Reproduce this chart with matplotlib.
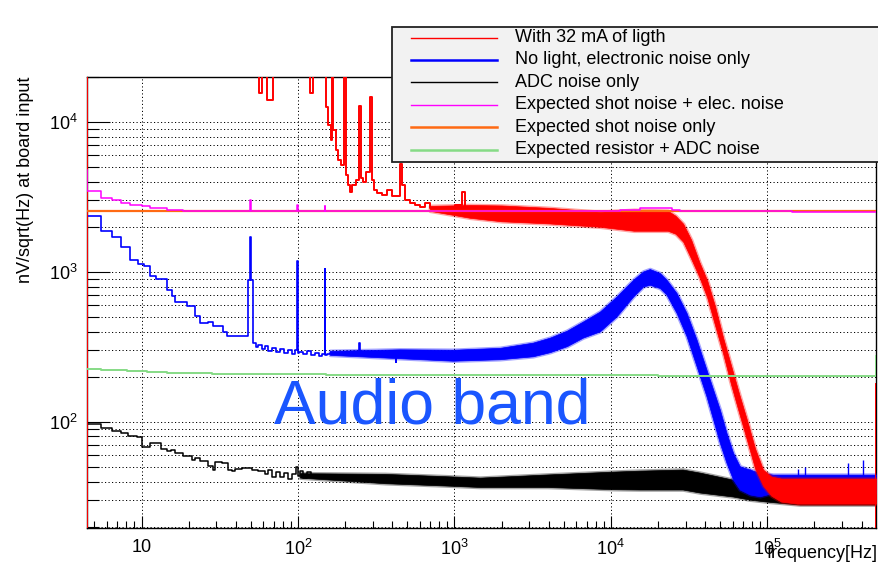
import matplotlib
matplotlib.use('Agg')
import matplotlib.pyplot as plt
from matplotlib.ticker import FixedLocator, FixedFormatter, LogLocator, NullFormatter
from matplotlib.patches import Rectangle
from matplotlib.lines import Line2D

plt.rcParams['font.family'] = ['Liberation Sans', 'DejaVu Sans']
plt.rcParams['mathtext.fontset'] = 'custom'
plt.rcParams['mathtext.rm'] = 'Liberation Sans'
plt.rcParams['mathtext.it'] = 'Liberation Sans:italic'

labels = ['With 32 mA of ligth', 'No light, electronic noise only', 'ADC noise only',
          'Expected shot noise + elec. noise', 'Expected shot noise only',
          'Expected resistor + ADC noise']
colors = ['#ff0000', '#0000ff', '#000000', '#ff00ff', '#ff6a13', '#86db86']

xtick_vals = [10, 100, 1e3, 1e4, 1e5]
xtick_labels = ['10', r'$\mathregular{10^{2}}$', r'$\mathregular{10^{3}}$',
                r'$\mathregular{10^{4}}$', r'$\mathregular{10^{5}}$']
ytick_vals = [100, 1e3, 1e4]
ytick_labels = [r'$\mathregular{10^{2}}$', r'$\mathregular{10^{3}}$', r'$\mathregular{10^{4}}$']

# red: with 32 mA of light (low frequency histogram part, then noise band)
red_f = [4.5, 4.5, 56.0, 58.8, 63.0, 69.0, 120, 124, 152, 156, 162, 166, 168, 174, 181, 188,
         198, 202, 208, 214, 222, 234, 246, 252, 262, 274, 290, 296, 306, 322, 345, 372, 400,
         449, 462, 483, 520, 560, 603, 649, 697, 807, 935, 1007, 1117, 1167, 1256]
red_v = [1, 3e4, 15700, 3e4, 14100, 3e4, 15700, 3e4, 12640, 9590, 7620, 3e4, 8890, 6530, 5610,
         5190, 3e4, 4455, 3820, 3430, 3820, 4125, 12850, 4254, 4000, 4665, 14750, 4125, 3540,
         3380, 3275, 3540, 3226, 5270, 3820, 3033, 2897, 2810, 2723, 2897, 2685, 2643, 2602,
         2810, 3430, 2602, 2523]
red_band_f = [697, 1256, 2000, 4000, 8510, 14030, 23120, 25900, 29000, 32600, 36700, 41300,
              46400, 52200, 58700, 66000, 74300, 83500, 93900, 106000, 122500, 155000, 290000,
              495000]
red_band_hi = [2760, 2800, 2780, 2680, 2523, 2602, 2563, 2373, 2098, 1641, 1171, 875, 587, 364,
               237, 154, 102, 66.4, 48.1, 43.2, 41.9, 41.9, 41.9, 41.9]
red_band_lo = [2560, 2300, 2180, 2110, 2004, 1885, 1885, 1800, 1592, 1227, 931, 675, 439, 285,
               177, 115, 75, 48.9, 37.6, 32.2, 29.4, 28.5, 28.5, 28.5]
red_edge_f = [4.93e5, 4.93e5]
red_edge_v = [10, 180]

# blue: no light, electronic noise only
blue_f = [4.5, 5.51, 6.45, 7.39, 8.45, 9.46, 10.4, 11.3, 12.4, 14.5, 15.6, 16.4, 19.4, 21.9,
          23.6, 26.7, 28.7, 33.3, 35.0, 37.7, 47.9, 49.7, 50.2, 51.2, 53.9, 55.5, 58.9, 61.5,
          64.3, 68.2, 72.3, 76.7, 81.4, 86.3, 91.6, 95.7, 98.8, 99.8, 101.4, 107.6, 114.2,
          121.1, 128.5, 136.3, 142.3, 148.5, 149.5, 153.1, 160, 246, 248, 420, 425]
blue_v = [2373, 1868, 1712, 1459, 1194, 1135, 1101, 935, 898, 762, 687, 627, 590, 511, 457, 461,
          434, 396, 376, 373, 888, 1704, 888, 338, 318, 328, 308, 323, 299, 313, 294, 308, 290,
          303, 285, 300, 1178, 290, 294, 285, 299, 281, 290, 277, 285, 1052, 281, 285, 290, 338,
          285, 250, 285]
blue_band_f = [160, 449, 977, 1954, 3175, 4077, 5230, 6620, 8510, 10870, 13890, 16080, 17740,
               20550, 22690, 26300, 30470, 35300, 40860, 45070, 49700, 54830, 60440, 66680,
               77270, 89510, 108900, 161300, 495000]
blue_band_hi = [298, 305, 303, 312, 338, 365, 406, 467, 545, 687, 888, 1009, 1047, 985, 888,
                724, 533, 354, 223, 164, 121, 84.5, 62.1, 50.6, 48.1, 45.7, 44.5, 44.5, 44.5]
blue_band_lo = [280, 266, 256, 262, 274, 292, 320, 365, 402, 506, 687, 801, 822, 782, 706, 533,
                373, 235, 148, 103.5, 72.4, 53.3, 41.2, 35.4, 32.8, 31.9, 33.6, 33.6, 33.6]
blue_spike_f = [77300, 157400, 173800, 328000, 409000]
blue_spike_v = [48.6, 48.6, 50.3, 52.8, 56.1]

# black: ADC noise only
black_f = [4.5, 5.51, 6.44, 7.39, 8.24, 9.32, 10.1, 11.3, 13.3, 14.5, 15.4, 16.3, 18.5, 20.9,
           22.0, 23.6, 26.7, 28.7, 29.5, 32.5, 35.5, 37.9, 39.6, 43.7, 50.6, 55.8, 61.5, 64.3,
           68.2, 72.3, 76.7, 81.4, 86.3, 91.6, 97.1, 100, 103, 108, 114, 121]
black_v = [97.5, 91.2, 86.5, 84.5, 81.1, 79.4, 68.1, 72.4, 66.1, 63.7, 65.3, 62.1, 59.0, 56.1,
           57.8, 54.6, 50.6, 48.1, 53.8, 53.3, 48.1, 46.9, 48.6, 49.3, 48.1, 46.9, 44.6, 48.1,
           42.6, 46.6, 43.2, 45.9, 41.9, 45.2, 50.4, 43.9, 47.0, 42.5, 46.0, 43.5]
black_band_f = [103, 360, 898, 1457, 3900, 10300, 15300, 28800, 37000, 60200, 77300, 99300,
                161400, 495000]
black_band_hi = [45.5, 45.0, 43.4, 42.5, 44.6, 46.6, 47.3, 48.1, 45.9, 41.2, 37.0, 33.8, 32.8, 32.8]
black_band_lo = [42.5, 39.0, 37.6, 36.8, 36.8, 35.6, 35.4, 35.4, 33.8, 31.8, 30.3, 29.4, 28.1, 28.1]

# magenta: expected shot noise + elec. noise
mag_f = [4.5, 4.5, 5.51, 6.45, 7.40, 8.45, 10.0, 11.3, 14.5, 18.4, 49.6, 50.3, 98.8, 99.8,
         148.5, 149.5, 11430, 15310, 17740, 20540, 24520, 27600, 143600, 495000]
mag_v = [4808, 3446, 3115, 3000, 2884, 2780, 2737, 2684, 2602, 2563, 3000, 2563, 2807, 2563,
         2737, 2563, 2602, 2662, 2684, 2662, 2602, 2563, 2510, 2510]

# orange: expected shot noise only
orange_f = [4.5, 495000]
orange_v = [2540, 2540]

# green: expected resistor + ADC noise
green_f = [4.5, 5.51, 8.04, 10.8, 14.5, 28.1, 150, 20000, 4.93e5, 4.93e5]
green_v = [225.6, 220.6, 217.4, 214.2, 212.2, 210, 206.7, 203.5, 203.5, 277]


def band(ax, f, lo, hi, color, z):
    # light halo first (looks like the noisy fringe), then the solid core
    ax.fill_between(f, lo, hi, facecolor=color, edgecolor=color, lw=2.6, alpha=0.35, zorder=z)
    ax.fill_between(f, lo, hi, facecolor=color, edgecolor=color, lw=0.5, zorder=z)


fig = plt.figure(figsize=(8.79, 5.70), dpi=100)
ax = fig.add_axes([87 / 879, 42 / 570, 789 / 879, 451 / 570])
ax.set_xscale('log')
ax.set_yscale('log')

band(ax, black_band_f, black_band_lo, black_band_hi, colors[2], 3)
ax.step(black_f, black_v, where='post', color=colors[2], lw=1.1, zorder=3)

band(ax, blue_band_f, blue_band_lo, blue_band_hi, colors[1], 4)
ax.step(blue_f, blue_v, where='post', color=colors[1], lw=1.2, zorder=4)
ax.vlines(blue_spike_f, 44, blue_spike_v, color=colors[1], lw=1, zorder=4)

band(ax, red_band_f, red_band_lo, red_band_hi, colors[0], 5)
ax.step(red_f, red_v, where='post', color=colors[0], lw=1.4, zorder=5)
ax.plot(red_edge_f, red_edge_v, color=colors[0], lw=1.4, zorder=5)

ax.plot(orange_f, orange_v, color=colors[4], lw=1.6, zorder=6)
ax.step(mag_f, mag_v, where='post', color=colors[3], lw=1.1, zorder=7)
ax.step(green_f, green_v, where='post', color=colors[5], lw=1.4, zorder=8)

ax.set_xlim(4.48, 4.95e5)
ax.set_ylim(19.6, 2.0e4)

ax.xaxis.set_major_locator(FixedLocator(xtick_vals))
ax.xaxis.set_major_formatter(FixedFormatter(xtick_labels))
ax.xaxis.set_minor_locator(LogLocator(base=10, subs=range(2, 10), numticks=20))
ax.xaxis.set_minor_formatter(NullFormatter())
ax.yaxis.set_major_locator(FixedLocator(ytick_vals))
ax.yaxis.set_major_formatter(FixedFormatter(ytick_labels))
ax.yaxis.set_minor_locator(LogLocator(base=10, subs=range(2, 10), numticks=20))
ax.yaxis.set_minor_formatter(NullFormatter())

ax.tick_params(axis='x', which='major', direction='in', length=8.6, width=0.8, labelsize=13, pad=8)
ax.tick_params(axis='x', which='minor', direction='in', length=5, width=0.8)
ax.tick_params(axis='y', which='major', direction='in', length=16.5, width=0.8, labelsize=13, pad=6.5)
ax.tick_params(axis='y', which='minor', direction='in', length=8.6, width=0.8)

grid_style = dict(color='black', lw=0.7, linestyle=(0, (1.2, 2.4)))
ax.grid(True, axis='y', which='both', **grid_style)
ax.grid(True, axis='x', which='major', **grid_style)
ax.set_axisbelow(True)
for s in ax.spines.values():
    s.set_linewidth(1.0)

fig.text(26 / 879, 1 - 77 / 570, 'nV/sqrt(Hz) at board input', rotation=90,
         ha='center', va='top', fontsize=13)
fig.text(878 / 879, 1 - 554 / 570, 'frequency[Hz]', ha='right', va='center', fontsize=13)
fig.text(274 / 879, 1 - 423.5 / 570, 'Audio band', color='#1a56ff', fontsize=45,
         ha='left', va='baseline')

# legend box (extends past the right edge like the original)
fig.add_artist(Rectangle((392 / 879, 1 - 162 / 570), 500 / 879, 135 / 570,
                         transform=fig.transFigure, facecolor='#f2f2f2',
                         edgecolor='#222222', lw=1.3, zorder=20))
legend_lw = [1.0, 1.8, 1.0, 1.0, 1.8, 1.8]
for i, (lab, col) in enumerate(zip(labels, colors)):
    yy = 1 - (37.5 + i * 22.4) / 570
    fig.add_artist(Line2D([411 / 879, 497 / 879], [yy, yy], transform=fig.transFigure,
                          color=col, lw=legend_lw[i], zorder=21))
    fig.text(515 / 879, yy, lab, ha='left', va='center', fontsize=13, zorder=21)

fig.savefig('out.png', dpi=100)
